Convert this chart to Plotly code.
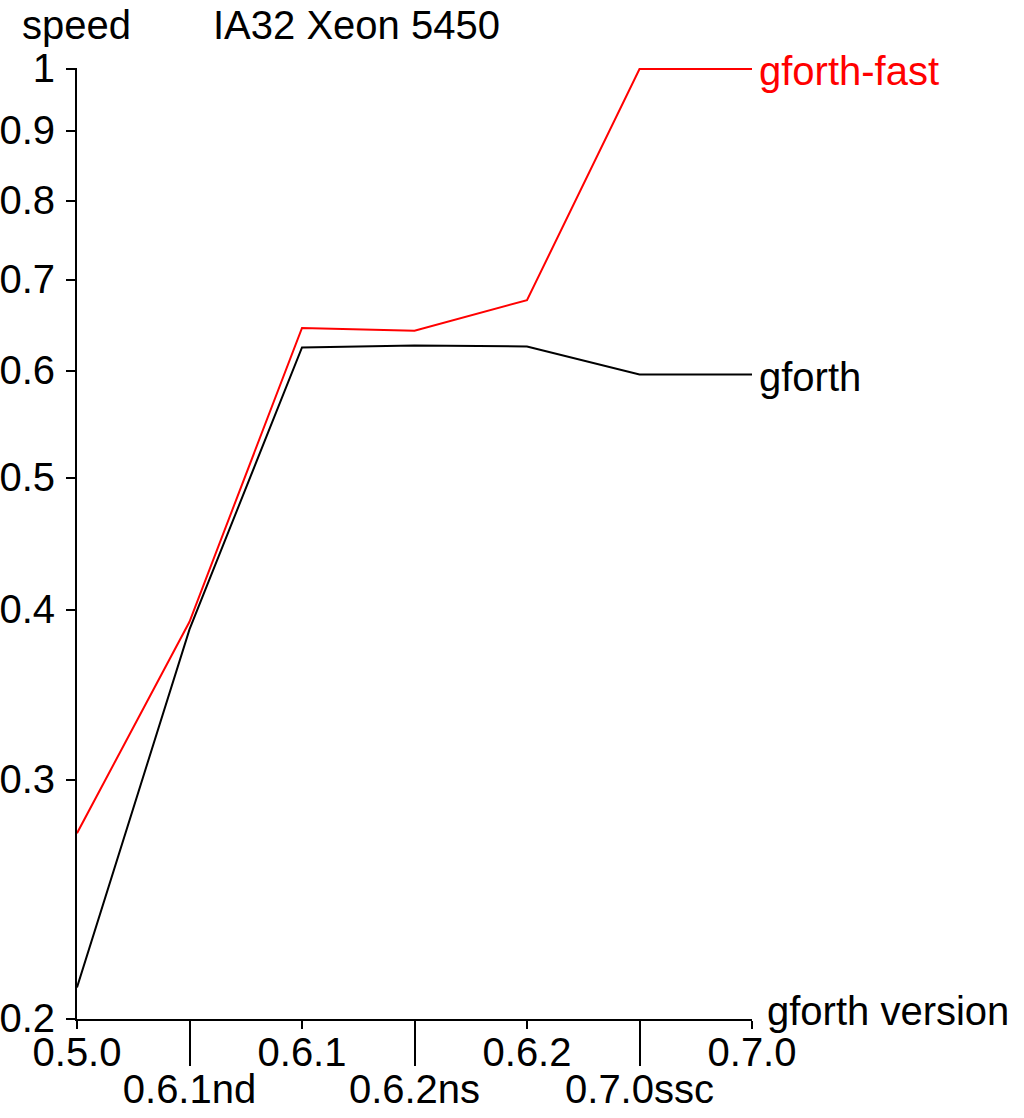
import plotly.graph_objects as go

versions = ["0.5.0", "0.6.1nd", "0.6.1", "0.6.2ns", "0.6.2", "0.7.0ssc", "0.7.0"]
gforth_fast = [0.274, 0.392, 0.645, 0.642, 0.676, 1.0, 1.0]
gforth = [0.211, 0.387, 0.624, 0.626, 0.625, 0.596, 0.596]
yticks = [0.2, 0.3, 0.4, 0.5, 0.6, 0.7, 0.8, 0.9, 1]
ytick_text = ["0.2", "0.3", "0.4", "0.5", "0.6", "0.7", "0.8", "0.9", "1"]

FONT = "Liberation Sans, Arial, sans-serif"
FS = 40
xpos = list(range(len(versions)))

fig = go.Figure()
fig.add_trace(go.Scatter(x=xpos, y=gforth, mode="lines", xaxis="x2",
                         line=dict(color="black", width=2), cliponaxis=False,
                         showlegend=False, hoverinfo="skip"))
fig.add_trace(go.Scatter(x=xpos, y=gforth_fast, mode="lines",
                         line=dict(color="#ff0000", width=2), cliponaxis=False,
                         showlegend=False, hoverinfo="skip"))

even = xpos[0::2]
odd = xpos[1::2]

fig.update_layout(
    width=1024, height=1118,
    margin=dict(l=77, r=272, t=68, b=99),
    paper_bgcolor="white", plot_bgcolor="white",
    font=dict(family=FONT, size=FS, color="black"),
    xaxis=dict(range=[0, 6], tickmode="array", tickvals=even,
               ticktext=[versions[i] for i in even],
               ticks="outside", ticklen=8, tickwidth=2, tickcolor="black",
               showline=True, linecolor="black", linewidth=2,
               showgrid=False, zeroline=False, ticklabelstandoff=-11,
               automargin=False),
    xaxis2=dict(range=[0, 6], overlaying="x", anchor="y", side="bottom",
                tickmode="array", tickvals=odd,
                ticktext=[versions[i] for i in odd],
                ticks="outside", ticklen=46, tickwidth=2, tickcolor="black",
                showline=False, showgrid=False, zeroline=False,
                ticklabelstandoff=-11, automargin=False),
    yaxis=dict(type="log", range=[-0.69897, 0.0008], tickmode="array",
               tickvals=yticks, ticktext=ytick_text,
               ticks="outside", ticklen=9, tickwidth=2, tickcolor="black",
               showline=True, linecolor="black", linewidth=2,
               showgrid=False, zeroline=False, ticklabelshift=-1,
               ticklabelstandoff=3, automargin=False),
    annotations=[
        dict(text="speed", xref="paper", yref="paper", x=(20 - 77) / 675, y=1,
             xanchor="left", yanchor="bottom", yshift=19, showarrow=False,
             font=dict(size=FS, color="black")),
        dict(text="IA32 Xeon 5450", xref="paper", yref="paper",
             x=(211 - 77) / 675, y=1, xanchor="left", yanchor="bottom",
             yshift=19, showarrow=False, font=dict(size=FS, color="black")),
        dict(text="gforth version", xref="paper", yref="paper",
             x=(765 - 77) / 675, y=0, xanchor="left", yanchor="middle",
             yshift=8, showarrow=False, font=dict(size=FS, color="black")),
        dict(text="gforth-fast", xref="x", yref="y", x=6, y=0,
             xanchor="left", yanchor="middle", xshift=5, yshift=-2,
             showarrow=False, font=dict(size=FS, color="#ff0000")),
        dict(text="gforth", xref="x", yref="y", x=6, y=-0.2248,
             xanchor="left", yanchor="middle", xshift=5, yshift=-2,
             showarrow=False, font=dict(size=FS, color="black")),
    ],
)

fig.write_html("out.html")
